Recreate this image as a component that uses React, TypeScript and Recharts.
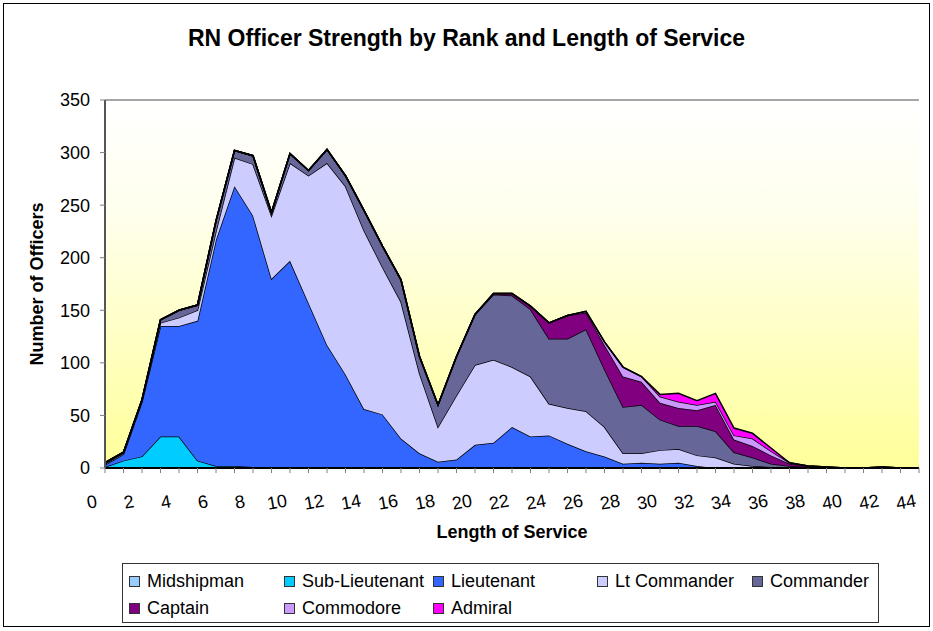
import { AreaChart, Area, XAxis, YAxis, ReferenceLine } from 'recharts';

// length of service (years)
const years = [0, 1, 2, 3, 4, 5, 6, 7, 8, 9, 10, 11, 12, 13, 14, 15, 16, 17, 18, 19, 20, 21, 22, 23, 24, 25, 26, 27, 28, 29, 30, 31, 32, 33, 34, 35, 36, 37, 38, 39, 40, 41, 42, 43, 44];

// officers per rank, one value per year of service
const midshipman = [0, 0, 0, 0, 0, 0, 0, 0, 0, 0, 0, 0, 0, 0, 0, 0, 0, 0, 0, 0, 0, 0, 0, 0, 0, 0, 0, 0, 0, 0, 0, 0, 0, 0, 0, 0, 0, 0, 0, 0, 0, 0, 0, 0, 0];
const subLieutenant = [1, 7, 11, 30, 30, 7, 2, 2, 1, 0, 0, 0, 1, 0, 0, 0, 0, 0, 0, 0, 0, 0, 0, 0, 0, 0, 0, 0, 0, 0, 0, 0, 0, 0, 0, 0, 0, 0, 0, 0, 0, 0, 0, 0, 0];
const lieutenant = [2, 6, 52, 105, 105, 133, 215, 266, 239, 180, 197, 157, 116, 89, 56, 51, 28, 14, 6, 8, 22, 24, 39, 30, 31, 23, 16, 11, 4, 5, 4, 5, 2, 0, 0, 0, 0, 0, 0, 0, 0, 0, 0, 0, 0];
const ltCommander = [1, 1, 1, 3, 8, 10, 8, 27, 49, 60, 93, 121, 173, 179, 170, 140, 130, 76, 33, 61, 76, 79, 57, 57, 30, 34, 38, 28, 10, 9, 13, 13, 10, 10, 4, 2, 1, 0, 0, 0, 0, 0, 0, 0, 0];
const commander = [1, 1, 1, 3, 7, 5, 10, 7, 8, 3, 9, 5, 13, 10, 19, 20, 21, 16, 21, 37, 48, 62, 68, 64, 62, 66, 78, 55, 44, 46, 29, 22, 28, 25, 11, 8, 3, 2, 1, 0, 0, 0, 0, 0, 0];
const captain = [0, 0, 0, 0, 0, 0, 0, 0, 0, 0, 0, 0, 0, 0, 0, 0, 0, 0, 0, 0, 0, 1, 2, 3, 15, 22, 16, 23, 29, 22, 16, 17, 15, 25, 12, 11, 8, 2, 1, 1, 0, 0, 1, 0, 0];
const commodore = [0, 0, 0, 0, 0, 0, 0, 0, 0, 0, 0, 0, 0, 0, 0, 0, 0, 0, 0, 0, 0, 0, 0, 0, 0, 0, 1, 3, 9, 5, 6, 6, 5, 3, 4, 7, 4, 1, 0, 0, 0, 0, 0, 0, 0];
const admiral = [0, 0, 0, 0, 0, 0, 0, 0, 0, 0, 0, 0, 0, 0, 0, 0, 0, 0, 0, 0, 0, 0, 0, 0, 0, 0, 0, 0, 0, 0, 2, 8, 4, 8, 7, 5, 3, 0, 0, 0, 0, 0, 0, 0, 0];

const yTicks = [0, 50, 100, 150, 200, 250, 300, 350];

const ranks = [
  { key: 'midshipman', name: 'Midshipman', color: '#99CCFF', values: midshipman },
  { key: 'subLieutenant', name: 'Sub-Lieutenant', color: '#00CCFF', values: subLieutenant },
  { key: 'lieutenant', name: 'Lieutenant', color: '#3366FF', values: lieutenant },
  { key: 'ltCommander', name: 'Lt Commander', color: '#CCCCFF', values: ltCommander },
  { key: 'commander', name: 'Commander', color: '#666699', values: commander },
  { key: 'captain', name: 'Captain', color: '#800080', values: captain },
  { key: 'commodore', name: 'Commodore', color: '#CC99FF', values: commodore },
  { key: 'admiral', name: 'Admiral', color: '#FF00FF', values: admiral },
];

const data = years.map((year, i) => {
  const row: Record<string, number> = { year };
  ranks.forEach(r => { row[r.key] = r.values[i]; });
  return row;
});

// legend slots as laid out in the original (left, top)
const legendPos = [
  [6, 7], [161, 7], [310, 7], [474, 7], [629, 7],
  [6, 34], [161, 34], [310, 34],
];

const font = '"Liberation Sans", Arial, sans-serif';

function ServiceTick({ x, y, payload }: any) {
  if (payload.value % 2 !== 0) return <g />;
  const cx = x - 13;
  const cy = y + 29;
  return (
    <text x={cx} y={cy} textAnchor="middle" dominantBaseline="central" fontSize={18} fontFamily={font}
          fill="#000" transform={`rotate(-10 ${cx} ${cy})`}>
      {payload.value}
    </text>
  );
}

export default function App() {
  return (
    <div style={{ position: 'absolute', left: 0, top: 0, width: 933, height: 631, background: '#fff', fontFamily: font }}>
      <div style={{ position: 'absolute', left: 3, top: 3, width: 925, height: 622, border: '1px solid #000' }} />
      <div style={{ position: 'absolute', left: 105, top: 100, width: 814, height: 368,
                    background: 'linear-gradient(to bottom, #ffffff 0%, #ffffee 30%, #ffff99 100%)' }} />
      <div style={{ position: 'absolute', left: 0, top: 24, width: 933, textAlign: 'center', fontSize: 23, fontWeight: 'bold', lineHeight: '28px' }}>
        RN Officer Strength by Rank and Length of Service
      </div>
      <div style={{ position: 'absolute', left: 37, top: 284, transform: 'translate(-50%, -50%) rotate(-90deg)',
                    whiteSpace: 'nowrap', fontSize: 18, fontWeight: 'bold' }}>
        Number of Officers
      </div>
      <div style={{ position: 'absolute', left: 512, top: 532, transform: 'translate(-50%, -50%)',
                    whiteSpace: 'nowrap', fontSize: 18, fontWeight: 'bold' }}>
        Length of Service
      </div>

      <div style={{ position: 'absolute', left: 0, top: 0 }}>
        <AreaChart width={933} height={631} data={data} margin={{ top: 100, right: 14, bottom: 103, left: 45 }}>
          <XAxis type="number" dataKey="year" domain={[0, 44]} ticks={years} interval={0}
                 tick={<ServiceTick />} tickSize={5} tickMargin={0}
                 axisLine={{ stroke: '#000', strokeWidth: 2 }} tickLine={{ stroke: '#808080' }} height={60} />
          <YAxis domain={[0, 350]} ticks={yTicks} width={60} tickSize={5} tickMargin={10}
                 tick={{ fontSize: 18, fill: '#000', fontFamily: font }}
                 axisLine={{ stroke: '#555', strokeWidth: 2 }} tickLine={{ stroke: '#808080' }} />
          <ReferenceLine y={350} stroke="#a6a6a6" strokeWidth={2} />
          {ranks.map(r => (
            <Area key={r.key} type="linear" dataKey={r.key} name={r.name} stackId="rank"
                  stroke="#000" strokeWidth={1.5} fill={r.color} fillOpacity={1}
                  dot={false} activeDot={false} isAnimationActive={false} />
          ))}
        </AreaChart>
      </div>

      <div style={{ position: 'absolute', left: 122, top: 563, width: 755, height: 58, border: '1px solid #333' }}>
        {ranks.map((r, i) => (
          <div key={r.key} style={{ position: 'absolute', left: legendPos[i][0], top: legendPos[i][1],
                                    display: 'flex', alignItems: 'center', fontSize: 18, lineHeight: '20px', whiteSpace: 'nowrap' }}>
            <span style={{ width: 9, height: 9, background: r.color, border: '1px solid #333', marginRight: 7 }} />
            {r.name}
          </div>
        ))}
      </div>
    </div>
  );
}
